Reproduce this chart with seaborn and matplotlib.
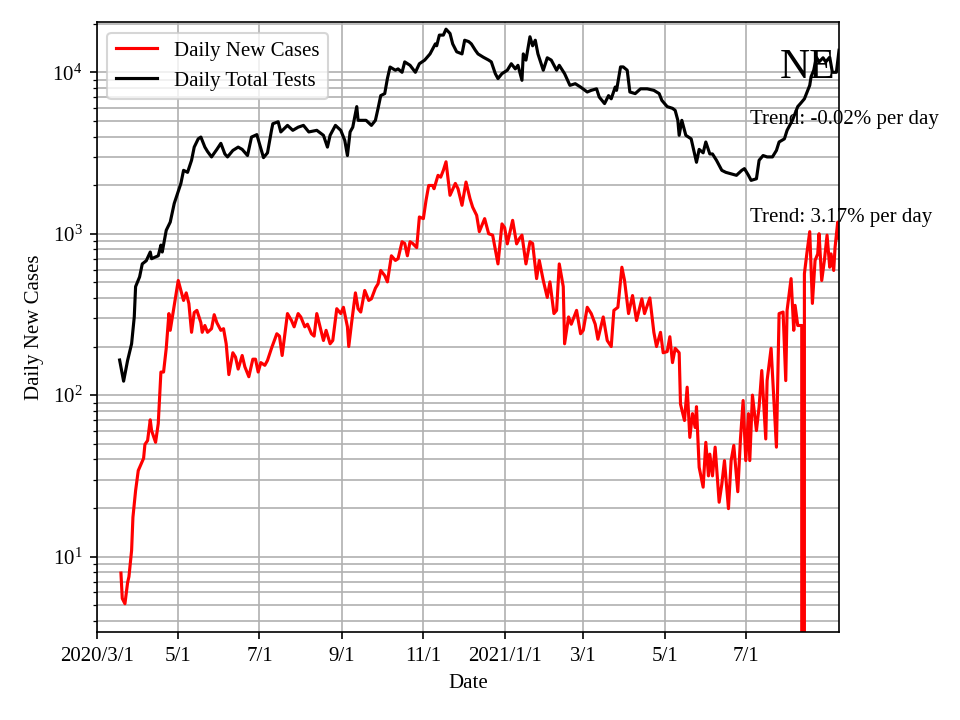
import numpy as np
import pandas as pd
import matplotlib
matplotlib.use("Agg")
import matplotlib.pyplot as plt
import seaborn as sns

# 新規感染者数 (日付, 値)
case_dates = ["2020-03-19","2020-03-20","2020-03-22","2020-03-24","2020-03-25","2020-03-27","2020-03-28","2020-03-30",
              "2020-04-01","2020-04-03","2020-04-05","2020-04-06","2020-04-08","2020-04-10","2020-04-11","2020-04-14",
              "2020-04-16","2020-04-18","2020-04-20","2020-04-22","2020-04-24","2020-04-25","2020-04-27","2020-04-29",
              "2020-05-01","2020-05-03","2020-05-05","2020-05-07","2020-05-09","2020-05-11","2020-05-13","2020-05-15",
              "2020-05-18","2020-05-19","2020-05-21","2020-05-23","2020-05-26","2020-05-28","2020-05-30","2020-06-02",
              "2020-06-04","2020-06-06","2020-06-08","2020-06-11","2020-06-13","2020-06-15","2020-06-18","2020-06-20",
              "2020-06-23","2020-06-26","2020-06-28","2020-06-30","2020-07-02","2020-07-05","2020-07-07","2020-07-10",
              "2020-07-14","2020-07-16","2020-07-18","2020-07-22","2020-07-25","2020-07-27","2020-07-30","2020-08-01",
              "2020-08-04","2020-08-06","2020-08-09","2020-08-11","2020-08-13","2020-08-15","2020-08-18","2020-08-20",
              "2020-08-23","2020-08-25","2020-08-28","2020-08-31","2020-09-02","2020-09-05","2020-09-06","2020-09-08",
              "2020-09-11","2020-09-13","2020-09-15","2020-09-18","2020-09-21","2020-09-23","2020-09-26","2020-09-28",
              "2020-09-30","2020-10-03","2020-10-05","2020-10-08","2020-10-11","2020-10-13","2020-10-16","2020-10-18",
              "2020-10-20","2020-10-22","2020-10-24","2020-10-27","2020-10-29","2020-11-01","2020-11-03","2020-11-05",
              "2020-11-08","2020-11-09","2020-11-12","2020-11-14","2020-11-16","2020-11-18","2020-11-21","2020-11-25",
              "2020-11-27","2020-11-30","2020-12-03","2020-12-06","2020-12-08","2020-12-11","2020-12-13","2020-12-17",
              "2020-12-20","2020-12-23","2020-12-27","2020-12-30","2021-01-01","2021-01-03","2021-01-07","2021-01-10",
              "2021-01-12","2021-01-14","2021-01-17","2021-01-20","2021-01-22","2021-01-25","2021-01-27","2021-01-30",
              "2021-02-02","2021-02-04","2021-02-07","2021-02-09","2021-02-11","2021-02-14","2021-02-15","2021-02-18",
              "2021-02-20","2021-02-24","2021-02-27","2021-03-01","2021-03-04","2021-03-07","2021-03-10","2021-03-12",
              "2021-03-16","2021-03-19","2021-03-22","2021-03-24","2021-03-27","2021-03-30","2021-04-01","2021-04-04",
              "2021-04-07","2021-04-10","2021-04-14","2021-04-16","2021-04-20","2021-04-23","2021-04-25","2021-04-28",
              "2021-04-30","2021-05-03","2021-05-05","2021-05-07","2021-05-09","2021-05-12","2021-05-13","2021-05-16",
              "2021-05-18","2021-05-20","2021-05-22","2021-05-24","2021-05-25","2021-05-27","2021-05-30","2021-06-01",
              "2021-06-03","2021-06-04","2021-06-06","2021-06-08","2021-06-11","2021-06-13","2021-06-15","2021-06-18",
              "2021-06-20","2021-06-22","2021-06-25","2021-06-27","2021-06-29","2021-07-01","2021-07-03","2021-07-04",
              "2021-07-06","2021-07-09","2021-07-11","2021-07-13","2021-07-16","2021-07-17","2021-07-20","2021-07-24",
              "2021-07-26","2021-07-29","2021-07-31","2021-08-01","2021-08-04","2021-08-06","2021-08-07","2021-08-09",
              "2021-08-12","2021-08-13","2021-08-14","2021-08-16","2021-08-18","2021-08-20","2021-08-22","2021-08-24",
              "2021-08-25","2021-08-27","2021-08-29","2021-08-31","2021-09-02","2021-09-03","2021-09-05","2021-09-06",
              "2021-09-08","2021-09-09"]
case_values = [7.9,5.5,5.1,6.9,7.5,10.9,17.5,25.6,
               34.1,37.2,40.6,49.5,52.3,70.3,60.3,51,
               66.6,139,139,195,320,252,320,403,
               513,445,386,430,369,245,325,335,
               281,245,270,245,258,315,281,252,
               258,208,134,183,172,145,176,150,
               130,167,167,139,159,153,164,195,
               240,232,176,320,290,265,320,305,
               265,275,240,232,320,275,218,252,
               208,218,343,320,350,265,200,275,
               430,343,327,445,386,395,460,490,
               592,550,503,730,683,700,892,870,
               730,892,870,820,1270,1240,1610,1990,
               1990,1900,2300,2240,2470,2790,1730,2050,
               1900,1500,2090,1650,1460,1300,1030,1240,
               1000,980,650,1150,1090,865,1210,865,
               930,980,650,892,870,527,683,513,
               403,503,320,335,650,470,208,305,
               275,335,240,252,350,320,275,222,
               305,218,200,335,350,620,513,320,
               414,290,395,320,400,245,200,245,
               183,186,230,159,195,183,88,69.6,
               112,54.7,76.8,63,84.8,35.7,26.9,51,
               31.6,43.1,31.6,47.6,21.7,28,39.3,19.8,
               39.3,48.8,25.2,53.5,92.6,39.3,76.8,39.3,
               100,60.3,84.8,142,53.5,123,195,47.6,
               320,327,123,335,527,252,360,270,
               270,0,565,773,1030,370,683,750,
               1000,513,683,980,620,750,592,820,
               1180,935]

# 検査数 (日付, 値)
test_dates = ["2020-03-18","2020-03-21","2020-03-24","2020-03-27","2020-03-29","2020-03-30","2020-04-02","2020-04-04",
              "2020-04-07","2020-04-10","2020-04-11","2020-04-16","2020-04-18","2020-04-19","2020-04-22","2020-04-25",
              "2020-04-28","2020-04-30","2020-05-03","2020-05-05","2020-05-08","2020-05-11","2020-05-13","2020-05-16",
              "2020-05-18","2020-05-21","2020-05-23","2020-05-26","2020-05-30","2020-06-02","2020-06-05","2020-06-07",
              "2020-06-11","2020-06-15","2020-06-18","2020-06-22","2020-06-25","2020-06-29","2020-07-01","2020-07-04",
              "2020-07-07","2020-07-10","2020-07-11","2020-07-15","2020-07-17","2020-07-22","2020-07-26","2020-07-30",
              "2020-08-03","2020-08-07","2020-08-13","2020-08-18","2020-08-21","2020-08-23","2020-08-27","2020-08-31",
              "2020-09-03","2020-09-05","2020-09-07","2020-09-09","2020-09-12","2020-09-13","2020-09-19","2020-09-23",
              "2020-09-26","2020-09-28","2020-09-30","2020-10-03","2020-10-05","2020-10-07","2020-10-11","2020-10-13",
              "2020-10-16","2020-10-18","2020-10-22","2020-10-26","2020-10-29","2020-11-02","2020-11-06","2020-11-10",
              "2020-11-11","2020-11-13","2020-11-16","2020-11-18","2020-11-21","2020-11-23","2020-11-26","2020-11-30",
              "2020-12-02","2020-12-05","2020-12-07","2020-12-10","2020-12-12","2020-12-16","2020-12-20","2020-12-22",
              "2020-12-25","2020-12-27","2020-12-30","2021-01-03","2021-01-06","2021-01-09","2021-01-11","2021-01-14",
              "2021-01-15","2021-01-17","2021-01-20","2021-01-22","2021-01-24","2021-01-26","2021-01-30","2021-02-02",
              "2021-02-05","2021-02-09","2021-02-11","2021-02-15","2021-02-19","2021-02-23","2021-02-27","2021-03-04",
              "2021-03-07","2021-03-11","2021-03-13","2021-03-17","2021-03-20","2021-03-22","2021-03-25","2021-03-26",
              "2021-03-29","2021-03-31","2021-04-03","2021-04-05","2021-04-09","2021-04-13","2021-04-18","2021-04-23",
              "2021-04-27","2021-04-29","2021-05-03","2021-05-07","2021-05-09","2021-05-11","2021-05-12","2021-05-14",
              "2021-05-17","2021-05-21","2021-05-23","2021-05-25","2021-05-27","2021-05-30","2021-06-01","2021-06-04",
              "2021-06-06","2021-06-09","2021-06-13","2021-06-16","2021-06-20","2021-06-24","2021-06-28","2021-06-30",
              "2021-07-03","2021-07-05","2021-07-09","2021-07-11","2021-07-14","2021-07-17","2021-07-21","2021-07-24",
              "2021-07-26","2021-07-30","2021-08-01","2021-08-05","2021-08-09","2021-08-11","2021-08-14","2021-08-16",
              "2021-08-18","2021-08-19","2021-08-21","2021-08-23","2021-08-25","2021-08-28","2021-08-30","2021-09-02",
              "2021-09-04","2021-09-07","2021-09-09"]
test_values = [165,122,164,208,305,470,540,650,
               680,770,700,730,850,770,1050,1180,
               1540,1730,2050,2470,2400,2850,3440,3870,
               3970,3440,3230,2990,3330,3630,3120,2990,
               3280,3440,3330,3050,3970,4110,3600,2960,
               3170,4370,4800,4940,4270,4690,4370,4570,
               4690,4270,4370,4070,3440,4070,4690,4370,
               3790,3050,4270,4570,6130,5040,5040,4690,
               5040,5980,7170,7380,9140,10780,10300,10500,
               10000,11600,11050,10000,11300,11900,13000,15000,
               14600,17000,17000,18500,17400,15000,13400,13000,
               15800,15500,15000,13700,13000,12400,11900,11600,
               9810,9140,9810,10300,11300,10500,11050,8920,
               13000,11900,16600,14600,15800,13000,10300,12300,
               11900,10300,11050,9810,8300,8500,8100,7550,
               7730,7900,7030,6400,7170,6850,8100,7730,
               10800,10800,10300,7550,7380,7900,7900,7730,
               7380,6700,6130,5980,5810,5040,4070,5040,
               4070,3870,3280,2770,3330,3170,3700,3120,
               3120,2850,2470,2400,2350,2300,2470,2530,
               2300,2140,2190,2850,3050,2990,2990,3280,
               3700,3870,4370,5040,6130,6400,6850,7550,
               8300,9370,10300,12400,11600,12300,11600,12400,
               10000,10000,13700]

tick_dates = ["2020-03-01","2020-05-01","2020-07-01","2020-09-01","2020-11-01",
              "2021-01-01","2021-03-01","2021-05-01","2021-07-01"]
tick_labels = ["2020/3/1","5/1","7/1","9/1","11/1","2021/1/1","3/1","5/1","7/1"]

state = "NE"
trend_tests = "Trend: -0.02% per day"
trend_cases = "Trend: 3.17% per day"

plt.rcParams['font.family'] = ['Liberation Serif', 'DejaVu Serif']
plt.rcParams['mathtext.fontset'] = 'stix'

cases = pd.DataFrame({"Date": pd.to_datetime(case_dates), "value": case_values})
tests = pd.DataFrame({"Date": pd.to_datetime(test_dates), "value": test_values})

fig, ax = plt.subplots(figsize=(6.4, 4.8), dpi=150)
fig.subplots_adjust(left=0.101, right=0.874, top=0.969, bottom=0.122)

sns.lineplot(data=cases, x="Date", y="value", color="red", label="Daily New Cases",
             estimator=None, ax=ax)
sns.lineplot(data=tests, x="Date", y="value", color="black", label="Daily Total Tests",
             estimator=None, ax=ax)

ax.set_yscale("log")
ax.set_ylim(3.4, 20400)
ax.set_xlim(pd.Timestamp("2020-03-01"), pd.Timestamp("2021-09-09"))
ax.set_xticks(pd.to_datetime(tick_dates))
ax.set_xticklabels(tick_labels)
ax.grid(True, which="both")

ax.set_xlabel("Date")
ax.set_ylabel("Daily New Cases")
ax.legend(loc="upper left")

ax.text(0.92, 0.908, state, transform=ax.transAxes, fontsize=20)
ax.text(0.88, 0.833, trend_tests, transform=ax.transAxes, fontsize=10)
ax.text(0.88, 0.672, trend_cases, transform=ax.transAxes, fontsize=10)

fig.savefig("out.png", dpi=150)
